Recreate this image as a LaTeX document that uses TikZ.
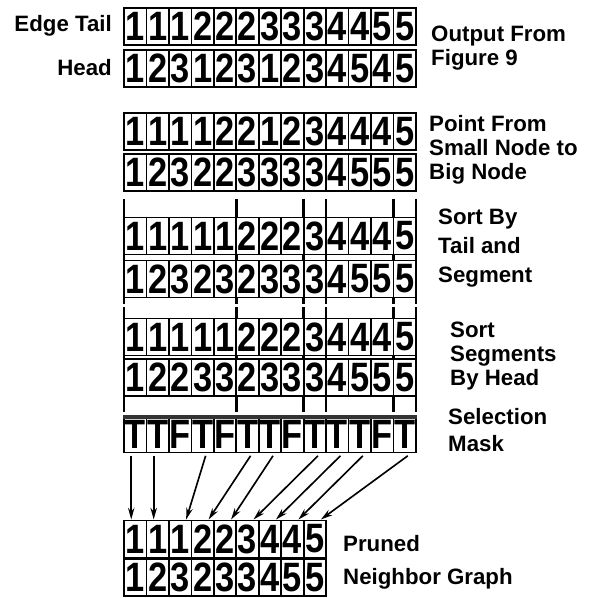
\documentclass[tikz,border=0pt]{standalone}
\usepackage{fontspec}
\usepackage{tikz}
\usetikzlibrary{arrows.meta, positioning, calc}

\newfontfamily\cellfamily[FakeStretch=0.84]{Liberation Sans}
\newfontfamily\lblfamily{Liberation Sans}
\newcommand{\cellfont}{\cellfamily\bfseries\fontsize{35}{35}\selectfont}
\newcommand{\lblfont}{\lblfamily\bfseries\fontsize{19}{20.5}\selectfont}

\begin{document}
\begin{tikzpicture}[
    x=0.03cm, y=-0.03cm,
    >=Stealth,
    cell/.style={
        draw=black, line width=1.4pt, fill=white,
        minimum width=0.674cm, minimum height=1.12cm,
        inner sep=0pt, font=\cellfont
    },
    lbl/.style={font=\lblfont, align=left, inner sep=0pt},
    flow/.style={draw=black, line width=1.4pt, -{Stealth[length=10pt,width=5.5pt]}},
    seg/.style={draw=black, line width=2.2pt}
]
\useasboundingbox (0,0) rectangle (594,598);

% Output from Figure 9
\foreach \d [count=\i] in {1,1,1,2,2,2,3,3,3,4,4,5,5}
  \node[cell] (aT\i) at ({124+(\i-0.5)*22.46},26.5) {\d};
\foreach \d [count=\i] in {1,2,3,1,2,3,1,2,3,4,5,4,5}
  \node[cell] (aH\i) at ({124+(\i-0.5)*22.46},68.5) {\d};
\node[lbl, anchor=east] (lblTail) at (112,26) {Edge Tail};
\node[lbl, anchor=east] (lblHead) at (112,68) {Head};
\node[lbl, anchor=west] (lblOut) at (431,48) {Output From\\Figure 9};

% Point from small node to big node
\foreach \d [count=\i] in {1,1,1,1,2,2,1,2,3,4,4,4,5}
  \node[cell] (bT\i) at ({124+(\i-0.5)*22.46},131.5) {\d};
\foreach \d [count=\i] in {1,2,3,2,2,3,3,3,3,4,5,5,5}
  \node[cell] (bH\i) at ({124+(\i-0.5)*22.46},172.5) {\d};
\node[lbl, anchor=west] (lblPoint) at (429,150)
    {Point From\\Small Node to\\Big Node};

% Sort by tail and segment
\foreach \k in {0,5,8,9,12,13}
  \draw[seg] ({124+\k*22.46},199) -- ({124+\k*22.46},304);
\foreach \d [count=\i] in {1,1,1,1,1,2,2,2,3,4,4,4,5}
  \node[cell] (cT\i) at ({124+(\i-0.5)*22.46},236) {\d};
\foreach \d [count=\i] in {1,2,3,2,3,2,3,3,3,4,5,5,5}
  \node[cell] (cH\i) at ({124+(\i-0.5)*22.46},279) {\d};
\node[lbl, anchor=west] (lblSortTail) at (438,248)
    {Sort By\\[4pt]Tail and\\[4pt]Segment};

% Sort segments by head
\foreach \k in {0,5,8,9,12,13}
  \draw[seg] ({124+\k*22.46},307) -- ({124+\k*22.46},412);
\foreach \d [count=\i] in {1,1,1,1,1,2,2,2,3,4,4,4,5}
  \node[cell] (dT\i) at ({124+(\i-0.5)*22.46},337) {\d};
\foreach \d [count=\i] in {1,2,2,3,3,2,3,3,3,4,5,5,5}
  \node[cell] (dH\i) at ({124+(\i-0.5)*22.46},377.5) {\d};
\node[lbl, anchor=west] (lblSortHead) at (450,356)
    {Sort\\Segments\\By Head};

% Selection mask
\foreach \d [count=\i] in {T,T,F,T,F,T,T,F,T,T,T,F,T}
  \node[cell] (m\i) at ({124+(\i-0.5)*22.46},434) {\d};
\draw[line width=4pt, black!80] ([yshift=-2pt]m1.north west) -- ([yshift=-2pt]m13.north east);
\node[lbl, anchor=west] (lblMask) at (448,430) {Selection\\[2pt]Mask};

% Pruned neighbor graph
\foreach \d [count=\i] in {1,1,1,2,2,3,4,4,5}
  \node[cell] (pT\i) at ({124+(\i-0.5)*22.46},539) {\d};
\foreach \d [count=\i] in {1,2,3,2,3,3,4,5,5}
  \node[cell] (pH\i) at ({124+(\i-0.5)*22.46},577.5) {\d};
\node[lbl, anchor=west] (lblPruned) at (343,562) {Pruned\\[8pt]Neighbor Graph};

% Edges
\foreach \a/\b/\s/\e in {1/1/-0.12/-0.12, 2/2/-0.12/-0.12, 4/3/0.09/0.18,
    6/4/0.09/0.18, 7/5/0.09/0.18, 9/6/0.09/0.18, 10/7/0.09/0.18,
    11/8/0.09/0.18, 13/9/0.09/0.18}
  \draw[flow] ([xshift=\s cm, yshift=-2pt]m\a.south) -- ([xshift=\e cm]pT\b.north);

\end{tikzpicture}
\end{document}
